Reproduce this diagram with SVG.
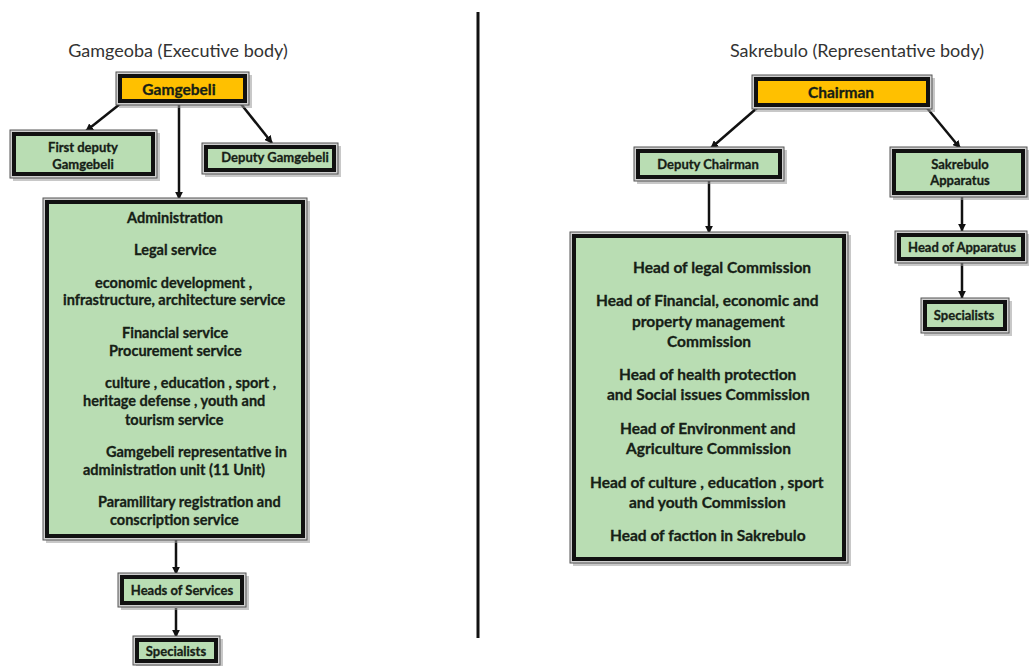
<svg xmlns="http://www.w3.org/2000/svg" width="1029" height="666" viewBox="0 0 1029 666">
<defs>
<marker id="ah" viewBox="0 0 10 10" refX="9" refY="5" markerWidth="8" markerHeight="8" markerUnits="userSpaceOnUse" orient="auto">
<path d="M0,0 L10,5 L0,10 z" fill="#111"/>
</marker>
<style>
.sh{fill:#9a9a9a;opacity:.55}
.out{fill:#cfcfcf;stroke:#555;stroke-width:1}
.g{fill:#b9ddb3;stroke:#111;stroke-width:4}
.y{fill:#ffc000;stroke:#111;stroke-width:4}
text{font-family:Lato,"Liberation Sans",sans-serif;font-weight:700;fill:#162016;stroke:#162016;stroke-width:0.3;dominant-baseline:central}
.c{text-anchor:middle}
.t{font-weight:400;font-size:18px;fill:#333;stroke:none;text-anchor:middle}
.s{font-size:13px}
.l{font-size:15.5px}
.m{font-size:14.5px}
.b{font-size:15.5px}
.cn{stroke:#111;stroke-width:2.5;fill:none;marker-end:url(#ah)}
</style>
</defs>
<rect width="1029" height="666" fill="#fff"/>
<line x1="478" y1="12" x2="478" y2="638" stroke="#111" stroke-width="3"/>
<text class="t" x="178" y="50">Gamgeoba (Executive body)</text>
<text class="t" x="857" y="50">Sakrebulo (Representative body)</text>

<g id="connectors">
<line class="cn" x1="120" y1="104" x2="86" y2="131"/>
<line class="cn" x1="241" y1="104" x2="272" y2="143"/>
<line class="cn" x1="179" y1="104" x2="179" y2="199"/>
<line class="cn" x1="176" y1="540" x2="176" y2="574"/>
<line class="cn" x1="176" y1="608" x2="176" y2="637"/>
<line class="cn" x1="757" y1="108" x2="711" y2="148"/>
<line class="cn" x1="927" y1="108" x2="960" y2="148"/>
<line class="cn" x1="709" y1="181" x2="709" y2="233"/>
<line class="cn" x1="962" y1="197" x2="962" y2="231"/>
<line class="cn" x1="962" y1="263" x2="962" y2="298"/>
</g>

<g id="gamgebeli">
<rect class="sh" x="119" y="75" width="133" height="33"/>
<rect class="out" x="116" y="72" width="133" height="33"/>
<rect class="y" x="120" y="76" width="125" height="25"/>
<text class="c l" x="179" y="89">Gamgebeli</text>
</g>
<g id="first-deputy">
<rect class="sh" x="13" y="133" width="147" height="48"/>
<rect class="out" x="10" y="130" width="147" height="48"/>
<rect class="g" x="14" y="134" width="139" height="40"/>
<text class="c s" x="83" y="147">First deputy</text>
<text class="c s" x="83" y="164">Gamgebeli</text>
</g>
<g id="deputy-gamgebeli">
<rect class="sh" x="205" y="146" width="136" height="31"/>
<rect class="out" x="202" y="143" width="136" height="31"/>
<rect class="g" x="206" y="147" width="128" height="23"/>
<text class="c s" x="275" y="157">Deputy Gamgebeli</text>
</g>
<g id="administration">
<rect class="sh" x="46" y="201" width="264" height="342"/>
<rect class="out" x="43" y="198" width="264" height="342"/>
<rect class="g" x="47" y="202" width="256" height="334"/>
<text class="m" x="127" y="217">Administration</text>
<text class="m" x="134" y="249">Legal service</text>
<text class="m" x="95" y="282">economic development ,</text>
<text class="m" x="63" y="299">infrastructure, architecture service</text>
<text class="m" x="122" y="332">Financial service</text>
<text class="m" x="109" y="350">Procurement service</text>
<text class="m" x="105" y="382">culture , education , sport ,</text>
<text class="m" x="83" y="400">heritage defense , youth and</text>
<text class="m" x="125" y="419">tourism service</text>
<text class="m" x="106" y="451">Gamgebeli representative in</text>
<text class="m" x="83" y="469">administration unit (11 Unit)</text>
<text class="m" x="98" y="501">Paramilitary registration and</text>
<text class="m" x="110" y="519">conscription service</text>
</g>
<g id="heads-of-services">
<rect class="sh" x="121" y="576" width="128" height="34"/>
<rect class="out" x="118" y="573" width="128" height="34"/>
<rect class="g" x="122" y="577" width="120" height="26"/>
<text class="c s" x="182" y="590">Heads of Services</text>
</g>
<g id="specialists-left">
<rect class="sh" x="136" y="639" width="87" height="28"/>
<rect class="out" x="133" y="636" width="87" height="29"/>
<rect class="g" x="137" y="640" width="79" height="21"/>
<text class="c s" x="176" y="651">Specialists</text>
</g>

<g id="chairman">
<rect class="sh" x="755" y="78" width="180" height="34"/>
<rect class="out" x="752" y="75" width="180" height="34"/>
<rect class="y" x="756" y="79" width="172" height="26"/>
<text class="c l" x="841" y="92">Chairman</text>
</g>
<g id="deputy-chairman">
<rect class="sh" x="637" y="150" width="150" height="34"/>
<rect class="out" x="634" y="147" width="150" height="34"/>
<rect class="g" x="638" y="151" width="142" height="26"/>
<text class="c s" x="708" y="164">Deputy Chairman</text>
</g>
<g id="sakrebulo-apparatus">
<rect class="sh" x="893" y="150" width="136" height="50"/>
<rect class="out" x="890" y="147" width="137" height="50"/>
<rect class="g" x="894" y="151" width="129" height="42"/>
<text class="c s" x="960" y="164">Sakrebulo</text>
<text class="c s" x="960" y="180">Apparatus</text>
</g>
<g id="commissions">
<rect class="sh" x="573" y="235" width="278" height="331"/>
<rect class="out" x="570" y="232" width="278" height="331"/>
<rect class="g" x="574" y="236" width="270" height="323"/>
<text class="b" x="633" y="267">Head of legal Commission</text>
<text class="b" x="596" y="300">Head of Financial, economic and</text>
<text class="b" x="632" y="321">property management</text>
<text class="b" x="667" y="341">Commission</text>
<text class="b" x="619" y="374">Head of health protection</text>
<text class="b" x="607" y="394">and Social issues Commission</text>
<text class="b" x="620" y="428">Head of Environment and</text>
<text class="b" x="626" y="448">Agriculture Commission</text>
<text class="b" x="590" y="482">Head of culture , education , sport</text>
<text class="b" x="629" y="502">and youth Commission</text>
<text class="b" x="610" y="535">Head of faction in Sakrebulo</text>
</g>
<g id="head-of-apparatus">
<rect class="sh" x="898" y="234" width="131" height="32"/>
<rect class="out" x="895" y="231" width="132" height="32"/>
<rect class="g" x="899" y="235" width="124" height="24"/>
<text class="c s" x="962" y="247">Head of Apparatus</text>
</g>
<g id="specialists-right">
<rect class="sh" x="924" y="301" width="88" height="35"/>
<rect class="out" x="921" y="298" width="88" height="35"/>
<rect class="g" x="925" y="302" width="80" height="27"/>
<text class="c s" x="964" y="315">Specialists</text>
</g>
</svg>
